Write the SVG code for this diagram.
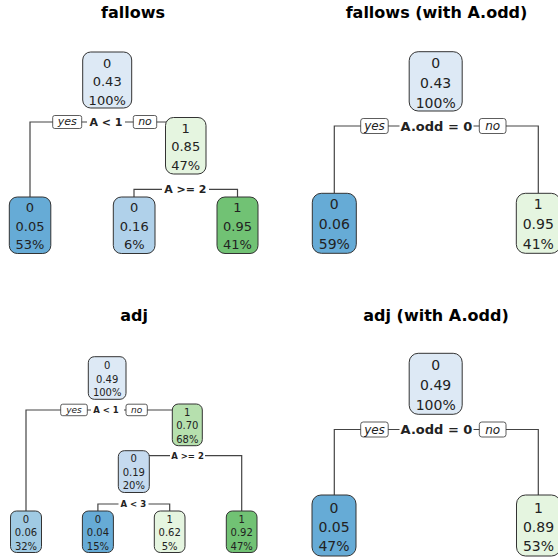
<svg xmlns="http://www.w3.org/2000/svg" width="558" height="558" viewBox="0 0 558 558">
<style>
text{font-family:"DejaVu Sans","Liberation Sans",sans-serif;fill:#222;text-anchor:middle}
.title{font-weight:bold;font-size:16px;fill:#000}
.nd rect{stroke:#333;stroke-width:1}
.p1 text{font-size:13px}
.p2 text{font-size:14px}
.p3 text{font-size:10px}
.conn path{stroke:#444;stroke-width:1.2;fill:none}
.bg{fill:#fff;stroke:none}
.yn{fill:#fff;stroke:#333;stroke-width:0.8}
.ynt{font-style:italic}
.lb{font-weight:bold}
.c0{fill:#dde9f5}.c1{fill:#66abd6}.c2{fill:#b0d1ea}.c3{fill:#e5f5e0}.c4{fill:#71c274}
.c5{fill:#b6e0ae}.c6{fill:#c5daef}.c7{fill:#a0cae3}
</style>
<rect width="558" height="558" fill="#fff"/>
<!-- titles -->
<text class="title" x="133" y="18">fallows</text>
<text class="title" x="436.5" y="18">fallows (with A.odd)</text>
<text class="title" x="134" y="321">adj</text>
<text class="title" x="436" y="321">adj (with A.odd)</text>

<g id="connectors" class="conn">
  <path d="M30,197 V122 H185"/>
  <path d="M134,197 V189.3 H237.5 V197"/>
  <path d="M334.3,193.3 V126 H538.3 V193.3"/>
  <path d="M26,511 V410 H187"/>
  <path d="M133.8,455.7 H241.7 V511"/>
  <path d="M97.9,511 V504 H169.7 V511"/>
  <path d="M334.3,495 V429.5 H538.3 V495"/>
</g>

<g id="labels">
  <!-- panel 1 -->
  <rect class="bg" x="87" y="115.5" width="38" height="13"/>
  <text class="lb" x="106" y="126" font-size="11">A &lt; 1</text>
  <rect class="yn" x="52.7" y="115.5" width="29" height="13" rx="2"/>
  <text class="ynt" x="67.2" y="125" font-size="11">yes</text>
  <rect class="yn" x="133.3" y="115.5" width="23.4" height="13" rx="2"/>
  <text class="ynt" x="145" y="125" font-size="11">no</text>
  <rect class="bg" x="162" y="183" width="47" height="13"/>
  <text class="lb" x="185.3" y="193.3" font-size="11">A &gt;= 2</text>
  <!-- panel 2 -->
  <rect class="bg" x="399.5" y="118.5" width="74" height="15"/>
  <text class="lb" x="436.5" y="130.7" font-size="13">A.odd = 0</text>
  <rect class="yn" x="360.7" y="118.5" width="27.5" height="15" rx="2.5"/>
  <text class="ynt" x="374.5" y="130" font-size="12">yes</text>
  <rect class="yn" x="479.3" y="118.5" width="26.7" height="15" rx="2.5"/>
  <text class="ynt" x="492.7" y="130" font-size="12">no</text>
  <!-- panel 3 -->
  <rect class="bg" x="91" y="404.5" width="33" height="11"/>
  <text class="lb" x="106" y="413.2" font-size="8.5">A &lt; 1</text>
  <rect class="yn" x="60.7" y="404.2" width="26.6" height="11.5" rx="2"/>
  <text class="ynt" x="74" y="412.8" font-size="9">yes</text>
  <rect class="yn" x="126" y="404.2" width="21.3" height="11.5" rx="2"/>
  <text class="ynt" x="136.7" y="412.8" font-size="9">no</text>
  <rect class="bg" x="170" y="450" width="35" height="11"/>
  <text class="lb" x="187.5" y="458.8" font-size="8.5">A &gt;= 2</text>
  <rect class="bg" x="118.5" y="498.5" width="30" height="11"/>
  <text class="lb" x="133.3" y="507.1" font-size="8.5">A &lt; 3</text>
  <!-- panel 4 -->
  <rect class="bg" x="399.5" y="422" width="74" height="15"/>
  <text class="lb" x="436.5" y="434.2" font-size="13">A.odd = 0</text>
  <rect class="yn" x="360.7" y="422" width="27.5" height="15" rx="2.5"/>
  <text class="ynt" x="374.5" y="433.5" font-size="12">yes</text>
  <rect class="yn" x="479.3" y="422" width="26.7" height="15" rx="2.5"/>
  <text class="ynt" x="492.7" y="433.5" font-size="12">no</text>
</g>

<!-- panel 1: fallows -->
<g class="nd p1">
  <g id="f_root"><rect class="c0" x="82.7" y="52" width="49" height="56" rx="8"/>
    <text x="107.2" y="68">0</text><text x="107.2" y="86.4">0.43</text><text x="107.2" y="104.6">100%</text></g>
  <g id="f_n3"><rect class="c3" x="165.5" y="117.5" width="40.5" height="56.5" rx="8"/>
    <text x="185.7" y="133">1</text><text x="185.7" y="151.4">0.85</text><text x="185.7" y="169.5">47%</text></g>
  <g id="f_l2"><rect class="c1" x="9.3" y="197" width="41.5" height="56.5" rx="8"/>
    <text x="30" y="212">0</text><text x="30" y="230.5">0.05</text><text x="30" y="249">53%</text></g>
  <g id="f_l6"><rect class="c2" x="113.3" y="197" width="41.7" height="56.5" rx="8"/>
    <text x="134.2" y="212">0</text><text x="134.2" y="230.5">0.16</text><text x="134.2" y="249">6%</text></g>
  <g id="f_l7"><rect class="c4" x="217" y="197" width="41" height="56.5" rx="8"/>
    <text x="237.5" y="212">1</text><text x="237.5" y="230.5">0.95</text><text x="237.5" y="249">41%</text></g>
</g>

<!-- panel 2: fallows (with A.odd) -->
<g class="nd p2">
  <g id="fo_root"><rect class="c0" x="409.2" y="51.7" width="53" height="59.3" rx="9"/>
    <text x="435.7" y="67.8">0</text><text x="435.7" y="87.8">0.43</text><text x="435.7" y="107.8">100%</text></g>
  <g id="fo_l2"><rect class="c1" x="312.3" y="193.3" width="44" height="60" rx="9"/>
    <text x="334.3" y="209.4">0</text><text x="334.3" y="229.4">0.06</text><text x="334.3" y="249.4">59%</text></g>
  <g id="fo_l3"><rect class="c3" x="516.3" y="193.3" width="44" height="60" rx="9"/>
    <text x="538.3" y="209.4">1</text><text x="538.3" y="229.4">0.95</text><text x="538.3" y="249.4">41%</text></g>
</g>

<!-- panel 3: adj -->
<g class="nd p3">
  <g id="a_root"><rect class="c0" x="88.3" y="356.7" width="37.7" height="42.6" rx="6"/>
    <text x="107.2" y="368.9">0</text><text x="107.2" y="382.6">0.49</text><text x="107.2" y="396.2">100%</text></g>
  <g id="a_n3"><rect class="c5" x="172.3" y="404" width="30" height="41.7" rx="6"/>
    <text x="187.3" y="416">1</text><text x="187.3" y="429.4">0.70</text><text x="187.3" y="443.3">68%</text></g>
  <g id="a_n6"><rect class="c6" x="118.3" y="450.7" width="31" height="41.8" rx="6"/>
    <text x="133.8" y="462">0</text><text x="133.8" y="476">0.19</text><text x="133.8" y="489.4">20%</text></g>
  <g id="a_l2"><rect class="c7" x="10.5" y="511" width="31" height="41.5" rx="6"/>
    <text x="26" y="523">0</text><text x="26" y="536">0.06</text><text x="26" y="549.6">32%</text></g>
  <g id="a_l12"><rect class="c1" x="82.4" y="511" width="31" height="41.5" rx="6"/>
    <text x="97.9" y="523">0</text><text x="97.9" y="536">0.04</text><text x="97.9" y="549.6">15%</text></g>
  <g id="a_l13"><rect class="c3" x="154.3" y="511" width="30.7" height="41.5" rx="6"/>
    <text x="169.7" y="523">1</text><text x="169.7" y="536">0.62</text><text x="169.7" y="549.6">5%</text></g>
  <g id="a_l7"><rect class="c4" x="226.3" y="511" width="30.7" height="41.5" rx="6"/>
    <text x="241.7" y="523">1</text><text x="241.7" y="536">0.92</text><text x="241.7" y="549.6">47%</text></g>
</g>

<!-- panel 4: adj (with A.odd) -->
<g class="nd p2">
  <g id="ao_root"><rect class="c0" x="409.2" y="353.3" width="53" height="61" rx="9"/>
    <text x="435.7" y="369.8">0</text><text x="435.7" y="389.8">0.49</text><text x="435.7" y="409.8">100%</text></g>
  <g id="ao_l2"><rect class="c1" x="312" y="495" width="44" height="61" rx="9"/>
    <text x="334" y="513.4">0</text><text x="334" y="532.3">0.05</text><text x="334" y="551.3">47%</text></g>
  <g id="ao_l3"><rect class="c3" x="516.5" y="495" width="44" height="61" rx="9"/>
    <text x="538.5" y="513.4">1</text><text x="538.5" y="532.3">0.89</text><text x="538.5" y="551.3">53%</text></g>
</g>
</svg>
